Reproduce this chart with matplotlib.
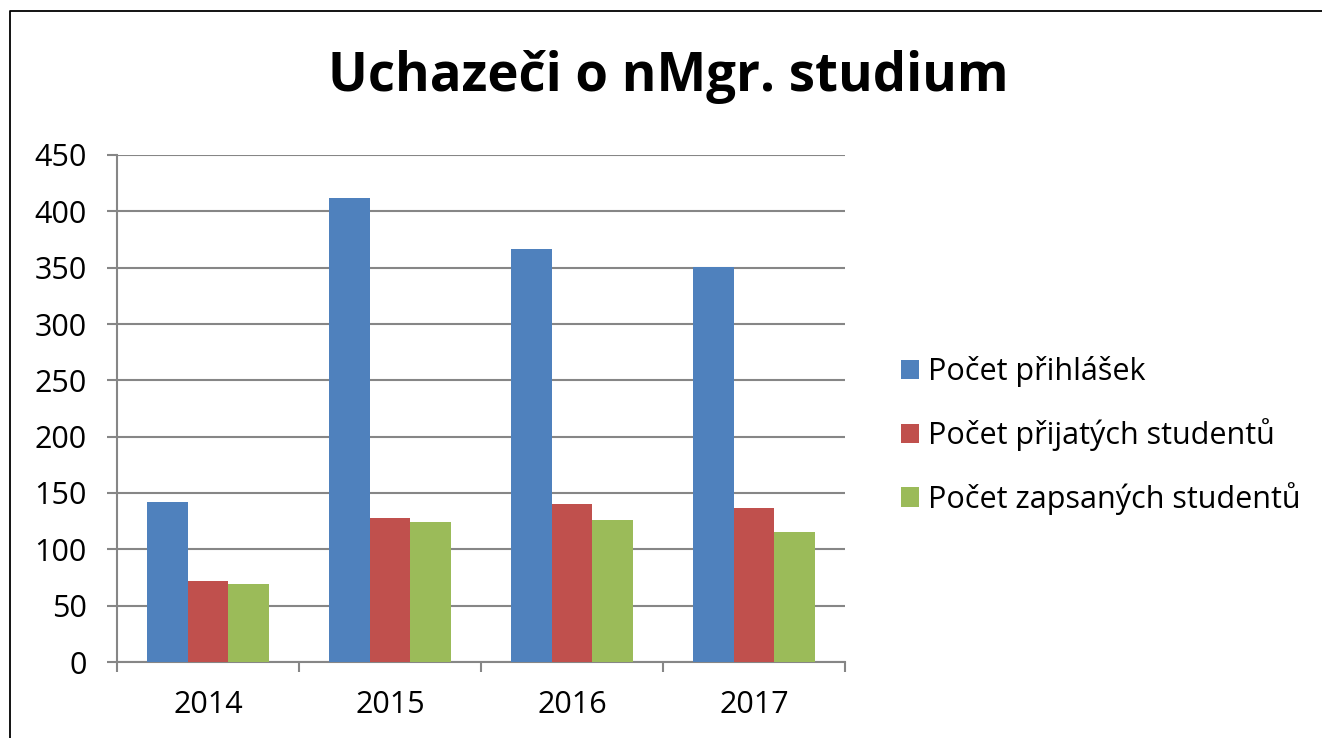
import matplotlib
matplotlib.use("Agg")
import matplotlib.pyplot as plt
import numpy as np
from matplotlib.lines import Line2D

years = ["2014", "2015", "2016", "2017"]
series_names = ["Počet přihlášek", "Počet přijatých studentů", "Počet zapsaných studentů"]
prihlasky = [142, 412, 367, 351]
prijati = [72, 128, 140, 137]
zapsani = [69, 124, 126, 115]
colors = ["#4F81BD", "#C0504D", "#9BBB59"]
yticks = [0, 50, 100, 150, 200, 250, 300, 350, 400, 450]

W, H = 1322, 738
plt.rcParams['font.family'] = ['Open Sans', 'DejaVu Sans']
fig = plt.figure(figsize=(W / 100, H / 100), dpi=100)

# outer chart border (only left and top edges lie inside the picture)
top = 1 - 10.5 / H
left = 9.5 / W
fig.add_artist(Line2D([left, left, 1.01], [-0.01, top, top], transform=fig.transFigure,
                      color="#000000", linewidth=1.3))

ax = fig.add_axes([117 / W, (H - 662) / H, (845 - 117) / W, (662 - 155) / H])
x = np.arange(len(years))
bw = 0.222
for i, (vals, name, c) in enumerate(zip([prihlasky, prijati, zapsani], series_names, colors)):
    ax.bar(x + (i - 1) * bw, vals, width=bw, color=c, label=name, zorder=3)

ax.set_xlim(-0.5, len(years) - 0.5)
ax.set_ylim(0, 450)
ax.set_yticks(yticks)
ax.set_yticklabels([str(v) for v in yticks], fontsize=22)
ax.set_xticks(x)
ax.set_xticklabels(years, fontsize=22)
ax.tick_params(axis='x', length=0, pad=20)
ax.tick_params(axis='y', length=7, width=1.5, color="#868686", pad=15, direction='out')
# minor ticks on x at category boundaries
ax.set_xticks(np.arange(-0.5, len(years)), minor=True)
ax.tick_params(axis='x', which='minor', length=7, width=1.5, color="#868686", direction='out')
ax.grid(axis='y', color="#868686", linewidth=1.5, zorder=0)
for s in ["top", "right"]:
    ax.spines[s].set_visible(False)
for s in ["left", "bottom"]:
    ax.spines[s].set_color("#868686")
    ax.spines[s].set_linewidth(1.5)

fig.text(668 / W, 1 - 77 / H, "Uchazeči o nMgr. studium", ha="center", va="center",
         fontsize=38, fontweight="bold")

leg = fig.legend(loc="upper left", bbox_to_anchor=(873 / W, 1 - 329 / H), frameon=False,
                 fontsize=22, handlelength=0.6, handleheight=0.6, handletextpad=0.3,
                 labelspacing=1.0)

fig.savefig("out.png", dpi=100)
